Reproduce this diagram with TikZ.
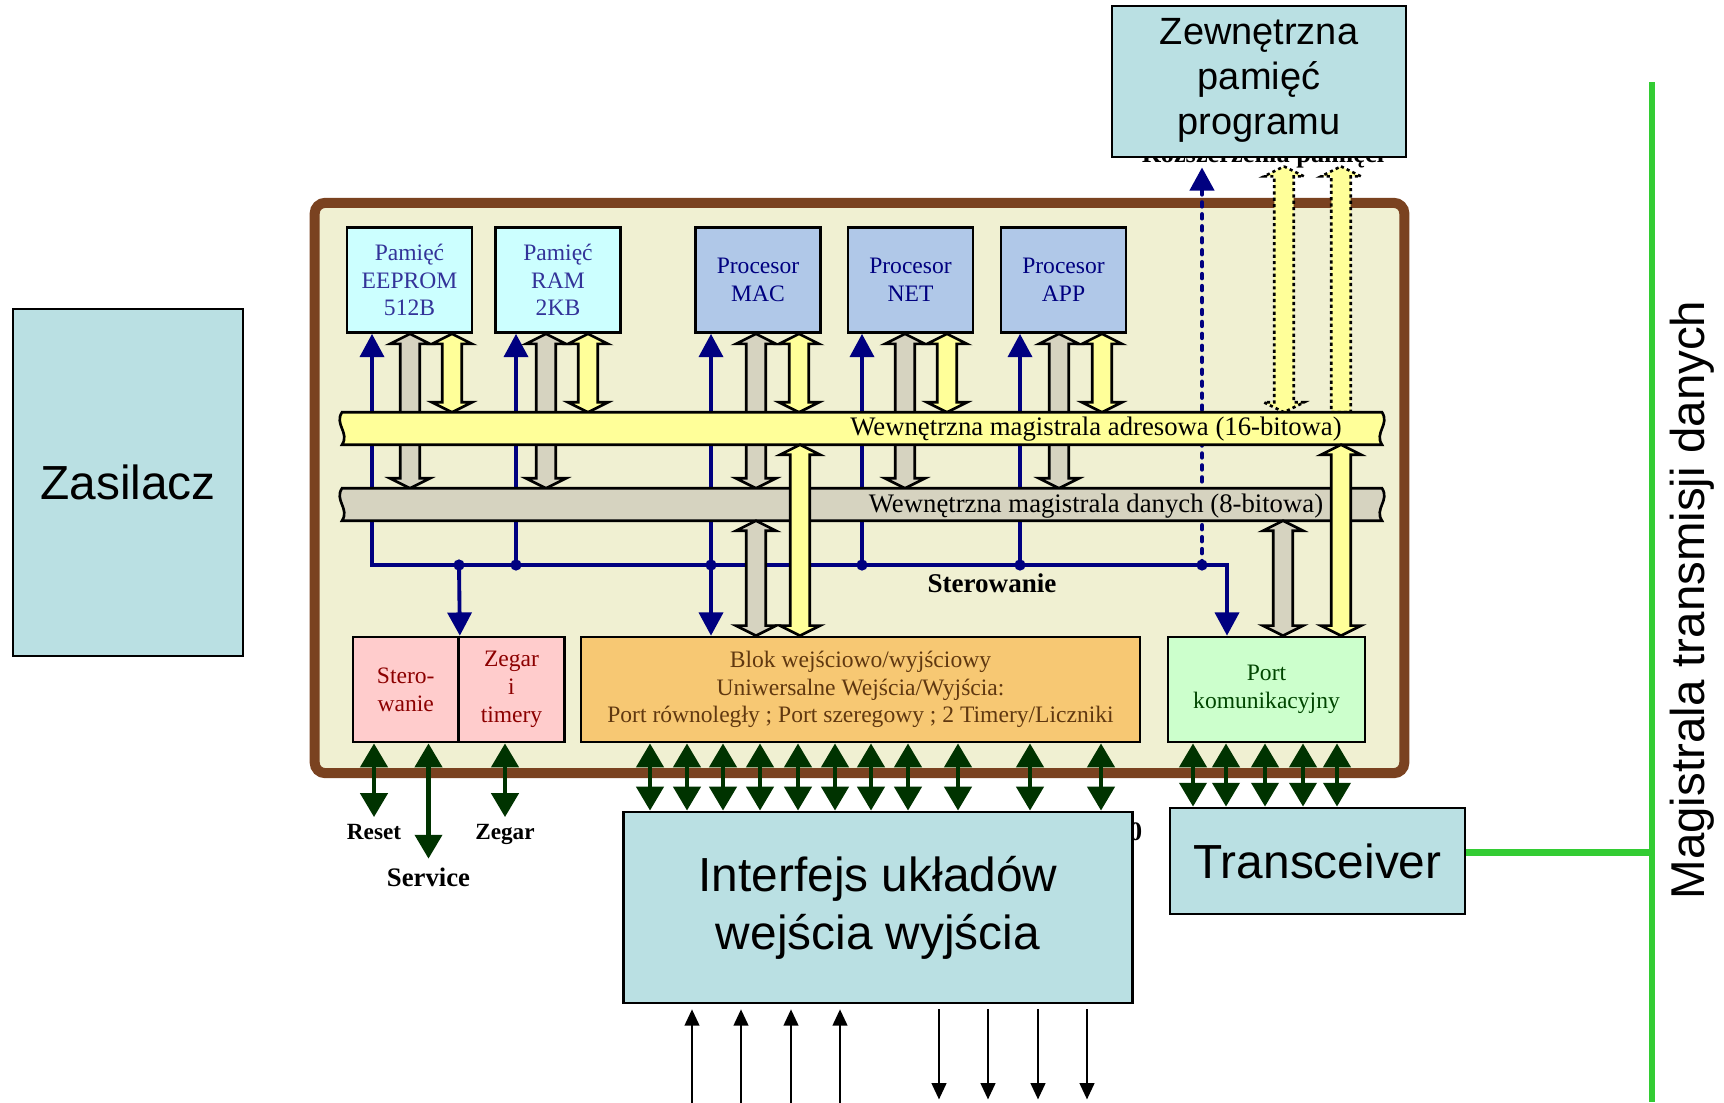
\documentclass[tikz,border=0pt]{standalone}
\usepackage{fontspec}
\setmainfont{Liberation Serif}
\newfontfamily\arialfont{Liberation Sans}
\usetikzlibrary{arrows.meta, calc}

\definecolor{chipbrown}{RGB}{122,66,32}
\definecolor{chipfill}{RGB}{240,240,210}
\definecolor{outcyan}{RGB}{186,224,227}
\definecolor{memfill}{RGB}{204,255,255}
\definecolor{memtext}{RGB}{51,51,153}
\definecolor{cpufill}{RGB}{176,200,232}
\definecolor{navy}{RGB}{0,0,128}
\definecolor{pinkfill}{RGB}{255,204,204}
\definecolor{pinktext}{RGB}{140,0,0}
\definecolor{iofill}{RGB}{247,200,115}
\definecolor{iotext}{RGB}{96,56,16}
\definecolor{portfill}{RGB}{204,255,204}
\definecolor{porttext}{RGB}{0,70,0}
\definecolor{busyellow}{RGB}{255,255,153}
\definecolor{busgray}{RGB}{214,211,192}
\definecolor{pingreen}{RGB}{0,51,0}
\definecolor{netgreen}{RGB}{51,204,51}

% wymiary grubych strzalek
\def\fahw{0.20cm}
\def\fahl{0.10cm}
\def\fasw{0.097cm}

% gruba strzalka dwustronna: styl, x, gorny koniec, dolny koniec
\newcommand{\fatarrow}[4]{%
  \coordinate (fa) at (#2,0);
  \draw[fat, #1] let \p1=(#3 -| fa), \p2=(#4 -| fa) in
    (\x1,\y1) -- (\x1+\fahw,\y1-\fahl) -- (\x1+\fasw,\y1-\fahl)
    -- (\x2+\fasw,\y2+\fahl) -- (\x2+\fahw,\y2+\fahl) -- (\x2,\y2)
    -- (\x2-\fahw,\y2+\fahl) -- (\x2-\fasw,\y2+\fahl)
    -- (\x1-\fasw,\y1-\fahl) -- (\x1-\fahw,\y1-\fahl) -- cycle;}

% gruba strzalka tylko w gore
\newcommand{\fatarrowup}[4]{%
  \coordinate (fa) at (#2,0);
  \draw[fat, #1] let \p1=(#3 -| fa), \p2=(#4 -| fa) in
    (\x1,\y1) -- (\x1+\fahw,\y1-\fahl) -- (\x1+\fasw,\y1-\fahl)
    -- (\x2+\fasw,\y2) -- (\x2-\fasw,\y2)
    -- (\x1-\fasw,\y1-\fahl) -- (\x1-\fahw,\y1-\fahl) -- cycle;}

% szyna ze zwinietymi koncami
\newcommand{\ribbon}[2]{%
  \draw[busedge, fill=#1] (#2.north west) -- (#2.north east)
    .. controls +(0.08cm,-0.12cm) and +(-0.08cm,0.12cm) .. (#2.south east)
    -- (#2.south west)
    .. controls +(0.08cm,0.12cm) and +(-0.08cm,-0.12cm) .. (#2.north west) -- cycle;}

\begin{document}
\begin{tikzpicture}[x=0.01cm, y=-0.01cm,
    outbox/.style={draw, line width=0.75pt, fill=outcyan, align=center, inner sep=0pt, font=\arialfont\fontsize{13.6}{16.4}\selectfont},
    mem/.style={draw, line width=0.75pt, fill=memfill, text=memtext, align=center, inner sep=0pt, minimum width=1.25cm, minimum height=1.05cm, font=\fontsize{6.7}{7.9}\selectfont},
    cpu/.style={mem, fill=cpufill, text=navy},
    unitbox/.style={draw, line width=0.75pt, align=center, inner sep=0pt, minimum height=1.05cm, font=\fontsize{6.7}{7.9}\selectfont},
    bus/.style={draw=none, minimum width=10.38cm, minimum height=0.31cm, inner sep=0pt},
    busedge/.style={draw, line width=0.75pt},
    buslbl/.style={inner sep=0pt, font=\fontsize{7.6}{9}\selectfont},
    tag/.style={inner sep=0pt, font=\bfseries\fontsize{6.6}{8}\selectfont},
    fat/.style={draw, line width=0.75pt, line join=miter},
    dotline/.style={dash pattern=on 0.9pt off 0.9pt},
    ctrl/.style={draw=navy, line width=1.1pt, >={Triangle[width=6.8pt,length=6.6pt]}},
    pinarr/.style={draw=pingreen, line width=1.4pt, {Triangle[width=7.6pt,length=6.8pt]}-{Triangle[width=7.6pt,length=6.8pt]}},
    sig/.style={draw, line width=0.45pt, >={Triangle[width=4.2pt,length=4.6pt]}},
    netline/.style={draw=netgreen, line width=1.9pt}]

  % tlo
  \fill[white] (0,0) rectangle (1724,1102);
  \useasboundingbox (0,0) rectangle (1724,1102);

  % napis pod pamiecia zewnetrzna
  \node[tag, font=\bfseries\fontsize{7.5}{9}\selectfont, anchor=base] (extlbl) at (1263,162) {Rozszerzenia pamięci};

  % bloki zewnetrzne
  \node[outbox, minimum width=2.94cm, minimum height=1.51cm] (extmem) at (1259,81.5) {};
  \node[inner sep=0pt, align=center, font=\arialfont\fontsize{10.8}{12.8}\selectfont] (extmemlbl) at (1259,80) {Zewnętrzna\\pamięć\\programu};
  \node[outbox, minimum width=2.30cm, minimum height=3.47cm] (psu) at (128,482.5) {Zasilacz};
  \node[outbox, minimum width=2.95cm, minimum height=1.06cm] (trx) at (1317.5,861) {Transceiver};
  \node[tag, font=\bfseries\fontsize{7.6}{9}\selectfont, anchor=base east] (hid0) at (1143,840) {0};
  \node[outbox, minimum width=5.09cm, minimum height=1.91cm] (iface) at (878,907.5) {Interfejs układów\\wejścia wyjścia};

  % magistrala transmisji danych
  \coordinate (ntop) at (1652,82);
  \coordinate (nbot) at (1652,1102);
  \coordinate (tap) at ([yshift=2.5pt]trx.east);
  \draw[netline] (ntop) -- (nbot);
  \draw[netline] (tap) -- (tap -| ntop);
  \node[rotate=90, inner sep=0pt, font=\arialfont\fontsize{13.5}{16}\selectfont] (netlbl) at (1692,600) {Magistrala transmisji danych};

  % uklad
  \node[draw=chipbrown, fill=chipfill, line width=2.85pt, rounded corners=3pt, minimum width=10.89cm, minimum height=5.70cm] (chip) at (859.5,488) {};

  % pamieci i procesory
  \node[mem] (eeprom) at (409.5,280) {Pamięć\\EEPROM\\512B};
  \node[mem] (ram) at (558,280) {Pamięć\\RAM\\2KB};
  \node[cpu] (mac) at (758,280) {Procesor\\MAC};
  \node[cpu] (net) at (910.5,280) {Procesor\\NET};
  \node[cpu] (app) at (1063.5,280) {Procesor\\APP};

  % bloki dolne
  \node[unitbox, fill=pinkfill, text=pinktext, minimum width=1.055cm] (stero) at (405.75,689.5) {Stero-\\wanie};
  \node[unitbox, fill=pinkfill, text=pinktext, minimum width=1.06cm] (zegar) at (511.5,689.5) {Zegar\\i\\timery};
  \node[unitbox, fill=iofill, text=iotext, minimum width=5.59cm] (blok) at (860.5,689.5) {Blok wejściowo/wyjściowy\\Uniwersalne Wejścia/Wyjścia:\\Port równoległy ; Port szeregowy ; 2 Timery/Liczniki};
  \node[unitbox, fill=portfill, text=porttext, minimum width=1.97cm] (port) at (1266.5,689.5) {Port\\komunikacyjny};

  % linie sterowania
  \coordinate (k0) at (372,565);
  \coordinate (kport) at (1227,565);
  \foreach \x/\n in {459/k1,516/k2,711/k3,862/k4,1020/k5,1202/k6}
    \coordinate (\n) at (\x,565);
  \draw[ctrl,<->] (eeprom.south -| k0) -- (k0) -- (kport) -- (port.north -| kport);
  \draw[ctrl,->] (k1) -- (stero.north east);
  \draw[ctrl,->] (k2) -- (ram.south -| k2);
  \draw[ctrl,<->] (mac.south -| k3) -- (blok.north -| k3);
  \draw[ctrl,->] (k4) -- (net.south -| k4);
  \draw[ctrl,->] (k5) -- (app.south -| k5);
  \draw[ctrl,->,line width=1.3pt,line cap=round,dash pattern=on 1.1pt off 2.3pt] (k6) -- ($(extmem.south -| k6)+(0,9)$);
  \foreach \n in {k1,k2,k3,k4,k5,k6}
    \fill[navy] (\n) circle (1.6pt);
  \node[tag, font=\bfseries\fontsize{7.7}{9}\selectfont, anchor=base] (sterlbl) at (992,592) {Sterowanie};

  % szyny
  \node[bus] (abus) at (862,428.5) {};
  \node[bus] (dbus) at (862,504.5) {};
  \foreach \b/\x in {eeprom/410,ram/546,mac/756,net/905,app/1059}
    \fatarrow{fill=busgray}{\x}{\b.south}{dbus.north};
  \ribbon{busgray}{dbus}
  \foreach \b/\x in {eeprom/452,ram/588,mac/799,net/947,app/1102}
    \fatarrow{fill=busyellow}{\x}{\b.south}{abus.north};
  \coordinate (xl) at ($(extmem.south)+(0,8)$);
  \fatarrow{fill=busyellow, dotline}{1284}{xl}{abus.north};
  \fatarrowup{fill=busyellow, dotline}{1341}{xl}{abus.north};
  \ribbon{busyellow}{abus}
  \node[buslbl, anchor=base] (abuslbl) at (1096,435) {Wewnętrzna magistrala adresowa (16-bitowa)};
  \node[buslbl, anchor=base] (dbuslbl) at (1096,512) {Wewnętrzna magistrala danych (8-bitowa)};
  \fatarrow{fill=busgray}{756}{dbus.south}{blok.north};
  \fatarrow{fill=busyellow}{800}{abus.south}{blok.north};
  \fatarrow{fill=busgray}{1283}{dbus.south}{port.north};
  \fatarrow{fill=busyellow}{1341}{abus.south}{port.north};

  % wyprowadzenia
  \node[tag, anchor=base] (rst) at (374,839) {Reset};
  \node[tag, font=\bfseries\fontsize{7.6}{9}\selectfont, anchor=base] (srv) at (428.5,886) {Service};
  \node[tag, anchor=base] (zeg) at (505,839) {Zegar};
  \draw[pinarr] (stero.south -| rst.north) -- ([yshift=1.7pt]rst.north);
  \draw[pinarr] (stero.south -| srv.north) -- ([yshift=2.3pt]srv.north);
  \draw[pinarr] (zegar.south -| zeg.north) -- ([yshift=1.7pt]zeg.north);
  \foreach \x in {650,687,723,760,798,835,871,908,958,1030,1101} {
    \coordinate (p) at (\x,0);
    \draw[pinarr] (blok.south -| p) -- (iface.north -| p);
  }
  \foreach \x in {1193,1226,1265,1303,1337} {
    \coordinate (p) at (\x,0);
    \draw[pinarr] (port.south -| p) -- (trx.north -| p);
  }

  % wejscia i wyjscia interfejsu
  \foreach \x in {692,741,791,840} {
    \coordinate (p) at (\x,0);
    \draw[sig,->] ($(iface.south -| p)+(0,99)$) -- ($(iface.south -| p)+(0,5)$);
  }
  \foreach \x in {939,988,1038,1087} {
    \coordinate (p) at (\x,0);
    \draw[sig,->] ($(iface.south -| p)+(0,5)$) -- ++(0,90);
  }

\end{tikzpicture}
\end{document}
